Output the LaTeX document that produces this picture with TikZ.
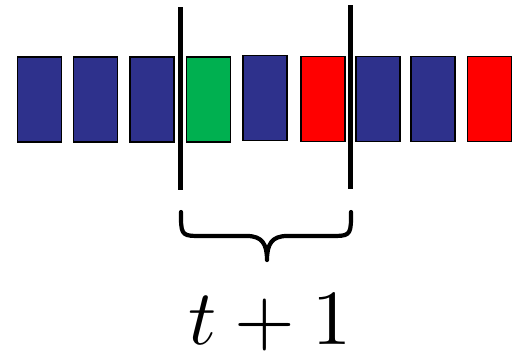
\documentclass[tikz,border=0pt]{standalone}
\usepackage{graphicx}
\usepackage{tikz}
\definecolor{cblue}{RGB}{46,49,140}
\definecolor{cgreen}{RGB}{0,176,80}
\definecolor{cred}{RGB}{255,0,0}
\begin{document}
\begin{tikzpicture}[x=1pt,y=-1pt,
  cell/.style={draw=black,line width=1.5pt,minimum width=44pt,minimum height=85pt,inner sep=0pt,outer sep=0pt},
  bar/.style={line width=4.5pt},
  bracestyle/.style={line width=4.2pt,line cap=round,line join=round}]
\useasboundingbox (0,0) rectangle (517,351);
\node[cell,fill=cblue] (r1) at (39.3,99.7) {};
\node[cell,fill=cblue] (r2) at (95.5,99.7) {};
\node[cell,fill=cblue] (r3) at (152.2,99.7) {};
\node[cell,fill=cgreen] (r4) at (208.7,99.7) {};
\node[cell,fill=cblue] (r5) at (265.2,98) {};
\node[cell,fill=cred] (r6) at (323.2,99.2) {};
\node[cell,fill=cblue] (r7) at (377.8,99) {};
\node[cell,fill=cblue] (r8) at (433,99) {};
\node[cell,fill=cred] (r9) at (489.3,99) {};
\coordinate (l1t) at (180.5,7);
\coordinate (l1b) at (180.5,190);
\coordinate (l2t) at (350.5,5);
\coordinate (l2b) at (350.5,189);
\draw[bar] (l1t) -- (l1b);
\draw[bar] (l2t) -- (l2b);
\draw[bracestyle] (181,212) -- (181,218) .. controls (181,236) and (184,236) .. (201,236) -- (247,236)
  .. controls (262,236) and (267,244) .. (267,260)
  .. controls (267,244) and (272,236) .. (287,236) -- (331,236)
  .. controls (348,236) and (351,236) .. (351,218) -- (351,212);
\node[anchor=base,inner sep=0pt,text depth=0pt] (lab) at (270,344) {\raisebox{0pt}[\height][0pt]{\scalebox{7.8}{$t+1$}}};
\end{tikzpicture}
\end{document}
